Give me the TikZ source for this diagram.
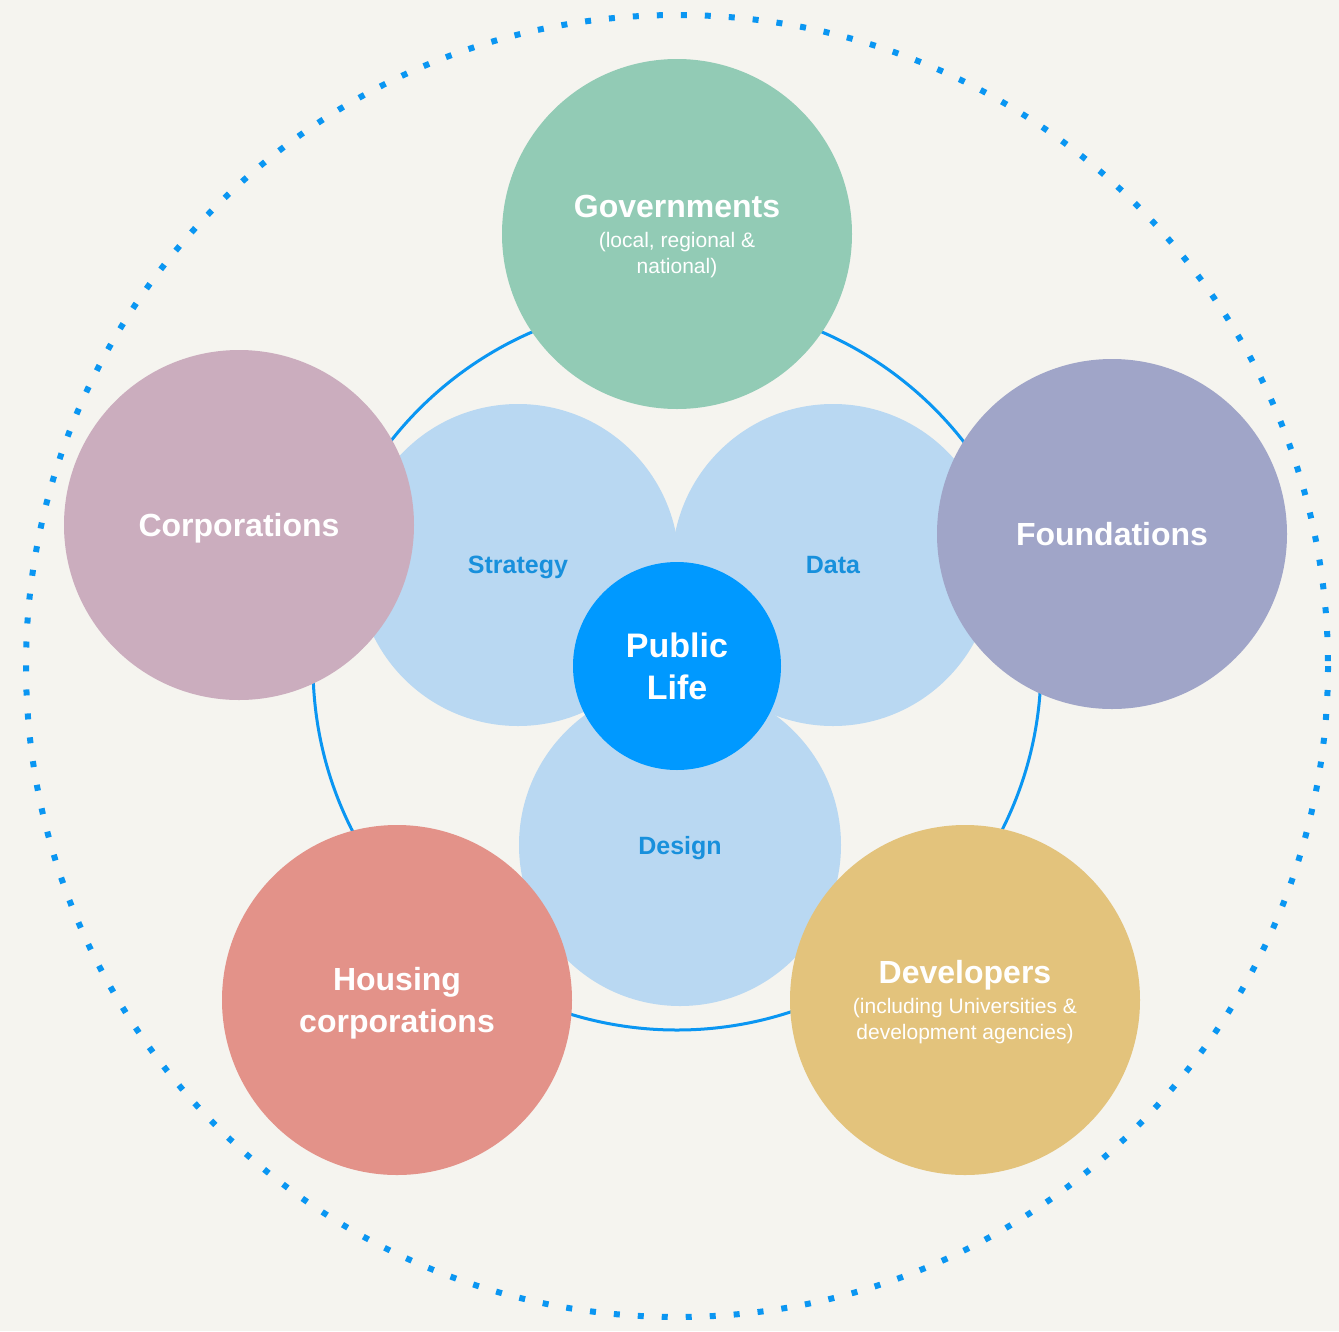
\documentclass[tikz,border=0pt]{standalone}
\usepackage{fontspec}
\setmainfont{Liberation Sans}
\definecolor{paper}{HTML}{F5F4EF}
\definecolor{ringblue}{HTML}{0A96F2}
\definecolor{coreblue}{HTML}{0099FF}
\definecolor{paleblue}{HTML}{B9D8F2}
\definecolor{labelblue}{HTML}{1890DC}
\definecolor{govgreen}{HTML}{92CBB5}
\definecolor{corpmauve}{HTML}{CBADBE}
\definecolor{foundlilac}{HTML}{A0A5C8}
\definecolor{housered}{HTML}{E39289}
\definecolor{devsand}{HTML}{E3C37C}
\newcommand{\subnote}{\fontsize{21}{26}\selectfont\mdseries}
\begin{document}
\begin{tikzpicture}[x=1pt, y=-1pt,
  actor/.style={circle, inner sep=0pt, minimum size=350pt, align=center, text=white,
    text depth=0pt, font=\fontsize{32}{42}\selectfont\bfseries},
  method/.style={circle, inner sep=0pt, minimum size=322pt, fill=paleblue, text=labelblue,
    text depth=0pt, font=\fontsize{25}{28}\selectfont\bfseries},
  core/.style={circle, inner sep=0pt, minimum size=208pt, fill=coreblue, align=center, text=white,
    font=\fontsize{34}{42}\selectfont\bfseries}]
\fill[paper] (0,0) rectangle (1339,1331);
\useasboundingbox (0,0) rectangle (1339,1331);
\coordinate (mid) at (677,666);
% outer dotted boundary and inner ring
\draw[ringblue, line width=6pt, dash pattern=on 6pt off 18pt] (mid) circle[radius=651];
\draw[ringblue, line width=3pt] (mid) circle[radius=364];
% methods
\node[method, text depth=-2pt] (strategy) at (518,565) {Strategy};
\node[method] (data) at (833,565) {Data};
\node[method] (design) at (680,845) {Design};
\node[core] (life) at (mid) {Public\\Life};
% stakeholders
\node[actor, fill=govgreen, text depth=-12pt] (gov) at (677,234)
  {Governments\\[-12pt]\subnote(local, regional \&\\[-16pt]\subnote national)};
\node[actor, fill=corpmauve] (corp) at (239,525) {Corporations};
\node[actor, fill=foundlilac] (found) at (1112,534) {Foundations};
\node[actor, fill=housered] (housing) at (397,1000) {Housing\\corporations};
\node[actor, fill=devsand, text depth=-9pt] (dev) at (965,1000)
  {Developers\\[-12pt]\subnote(including Universities \&\\[-16pt]\subnote development agencies)};
\end{tikzpicture}
\end{document}
